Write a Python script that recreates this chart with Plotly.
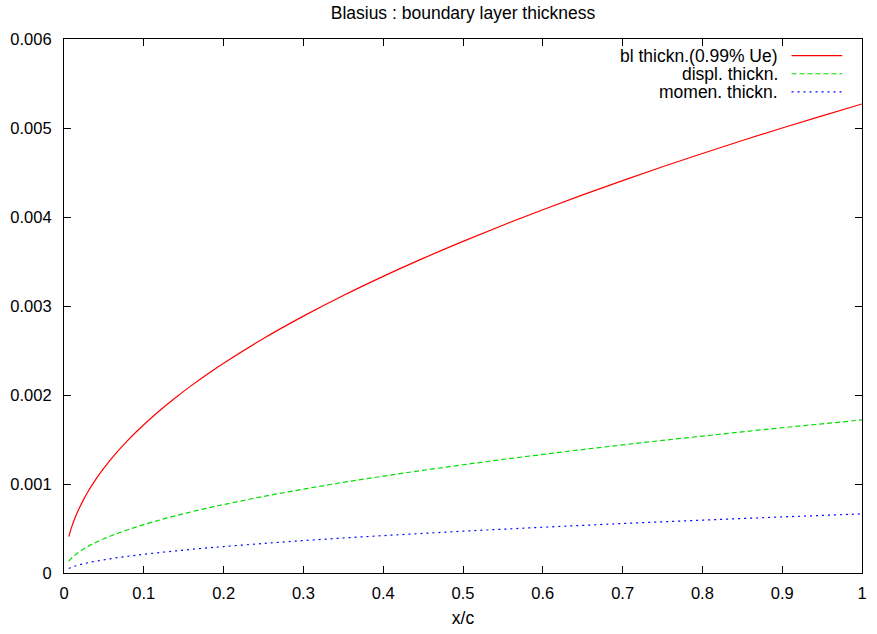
import plotly.graph_objects as go

# Blasius flat-plate boundary layer: thickness measures along the chord
x_c = [0.006, 0.008, 0.01, 0.0125, 0.015, 0.02, 0.025, 0.03, 0.04, 0.05, 0.06,
       0.07, 0.08, 0.09, 0.1, 0.12, 0.14, 0.16, 0.18, 0.2, 0.25, 0.3, 0.35, 0.4,
       0.45, 0.5, 0.55, 0.6, 0.65, 0.7, 0.75, 0.8, 0.85, 0.9, 0.95, 1.0]
bl_thickness = [0.000408, 0.000471, 0.000527, 0.000589, 0.000646, 0.000745,
                0.000833, 0.000913, 0.001054, 0.001178, 0.001291, 0.001394,
                0.00149, 0.001581, 0.001666, 0.001826, 0.001972, 0.002108,
                0.002236, 0.002357, 0.002635, 0.002886, 0.003118, 0.003333,
                0.003535, 0.003726, 0.003908, 0.004082, 0.004249, 0.004409,
                0.004564, 0.004714, 0.004859, 0.005, 0.005137, 0.00527]
displ_thickness = [0.000133, 0.000154, 0.000172, 0.000192, 0.000211, 0.000243,
                   0.000272, 0.000298, 0.000344, 0.000385, 0.000421, 0.000455,
                   0.000486, 0.000516, 0.000544, 0.000596, 0.000644, 0.000688,
                   0.00073, 0.000769, 0.00086, 0.000942, 0.001018, 0.001088,
                   0.001154, 0.001216, 0.001276, 0.001332, 0.001387, 0.001439,
                   0.00149, 0.001538, 0.001586, 0.001632, 0.001676, 0.00172]
momen_thickness = [0.0000515, 0.0000594, 0.0000664, 0.0000742, 0.0000813,
                   0.0000939, 0.000105, 0.000115, 0.000133, 0.000148, 0.000163,
                   0.000176, 0.000188, 0.000199, 0.00021, 0.00023, 0.000248,
                   0.000266, 0.000282, 0.000297, 0.000332, 0.000364, 0.000393,
                   0.00042, 0.000445, 0.00047, 0.000492, 0.000514, 0.000535,
                   0.000556, 0.000575, 0.000594, 0.000612, 0.00063, 0.000647,
                   0.000664]

series_names = ["bl thickn.(0.99% Ue)", "displ. thickn.", "momen. thickn."]
series_colors = ["#ff0000", "#00e000", "#0000ff"]
series_dash = ["solid", "5px,3px", "2px,4px"]

x_tick_vals = [0, 0.1, 0.2, 0.3, 0.4, 0.5, 0.6, 0.7, 0.8, 0.9, 1]
x_tick_text = ["0", "0.1", "0.2", "0.3", "0.4", "0.5", "0.6", "0.7", "0.8", "0.9", "1"]
y_tick_vals = [0, 0.001, 0.002, 0.003, 0.004, 0.005, 0.006]
y_tick_text = ["0", "0.001", "0.002", "0.003", "0.004", "0.005", "0.006"]

W, H = 877, 634
M = dict(l=63, r=10, t=38.5, b=57.5)
FONT = "Liberation Sans, Arial, sans-serif"
FS_TICK = 16.5
FS_TEXT = 17.5


def px_to_paper(px, py):
    pw = W - M["l"] - M["r"]
    ph = H - M["t"] - M["b"]
    return (px - M["l"]) / pw, 1 - (py - M["t"]) / ph


fig = go.Figure()
for ys, name, col, dash in zip([bl_thickness, displ_thickness, momen_thickness],
                               series_names, series_colors, series_dash):
    fig.add_trace(go.Scatter(x=x_c, y=ys, mode="lines", name=name,
                             line=dict(color=col, width=1.2, dash=dash, shape="spline"),
                             showlegend=False))

# key in the top-right corner: right-aligned text with the line sample after it
for i, (name, col, dash) in enumerate(zip(series_names, series_colors, series_dash)):
    row_y = 55.3 + 18.2 * i
    tx, ty = px_to_paper(784, row_y)
    fig.add_annotation(x=tx, y=ty, xref="paper", yref="paper", text=name,
                       showarrow=False, xanchor="right", yanchor="middle",
                       font=dict(family=FONT, size=FS_TEXT, color="black"))
    x0, y0 = px_to_paper(796, row_y)
    x1, _ = px_to_paper(847, row_y)
    fig.add_shape(type="line", xref="paper", yref="paper", x0=x0, x1=x1, y0=y0, y1=y0,
                  line=dict(color=col, width=1.2, dash=dash))

axis_common = dict(showline=True, linecolor="black", linewidth=1.2, mirror="ticks",
                   ticks="inside", ticklen=7, tickcolor="black", tickwidth=1,
                   showgrid=False, zeroline=False,
                   tickfont=dict(family=FONT, size=FS_TICK, color="black"))

fig.update_xaxes(range=[0, 1], tickvals=x_tick_vals, ticktext=x_tick_text,
                 title=dict(text="x/c", font=dict(family=FONT, size=FS_TEXT, color="black"),
                            standoff=10),
                 ticklabelstandoff=5, **axis_common)
fig.update_yaxes(range=[0, 0.006], tickvals=y_tick_vals, ticktext=y_tick_text,
                 ticklabelstandoff=8, **axis_common)

fig.update_layout(
    width=W, height=H, margin=M,
    paper_bgcolor="white", plot_bgcolor="white",
    title=dict(text="Blasius : boundary layer thickness", x=0.5, xref="paper",
               xanchor="center", y=1 - 12.5 / H, yanchor="middle",
               font=dict(family=FONT, size=FS_TEXT, color="black")),
)

fig.write_html("out.html")
